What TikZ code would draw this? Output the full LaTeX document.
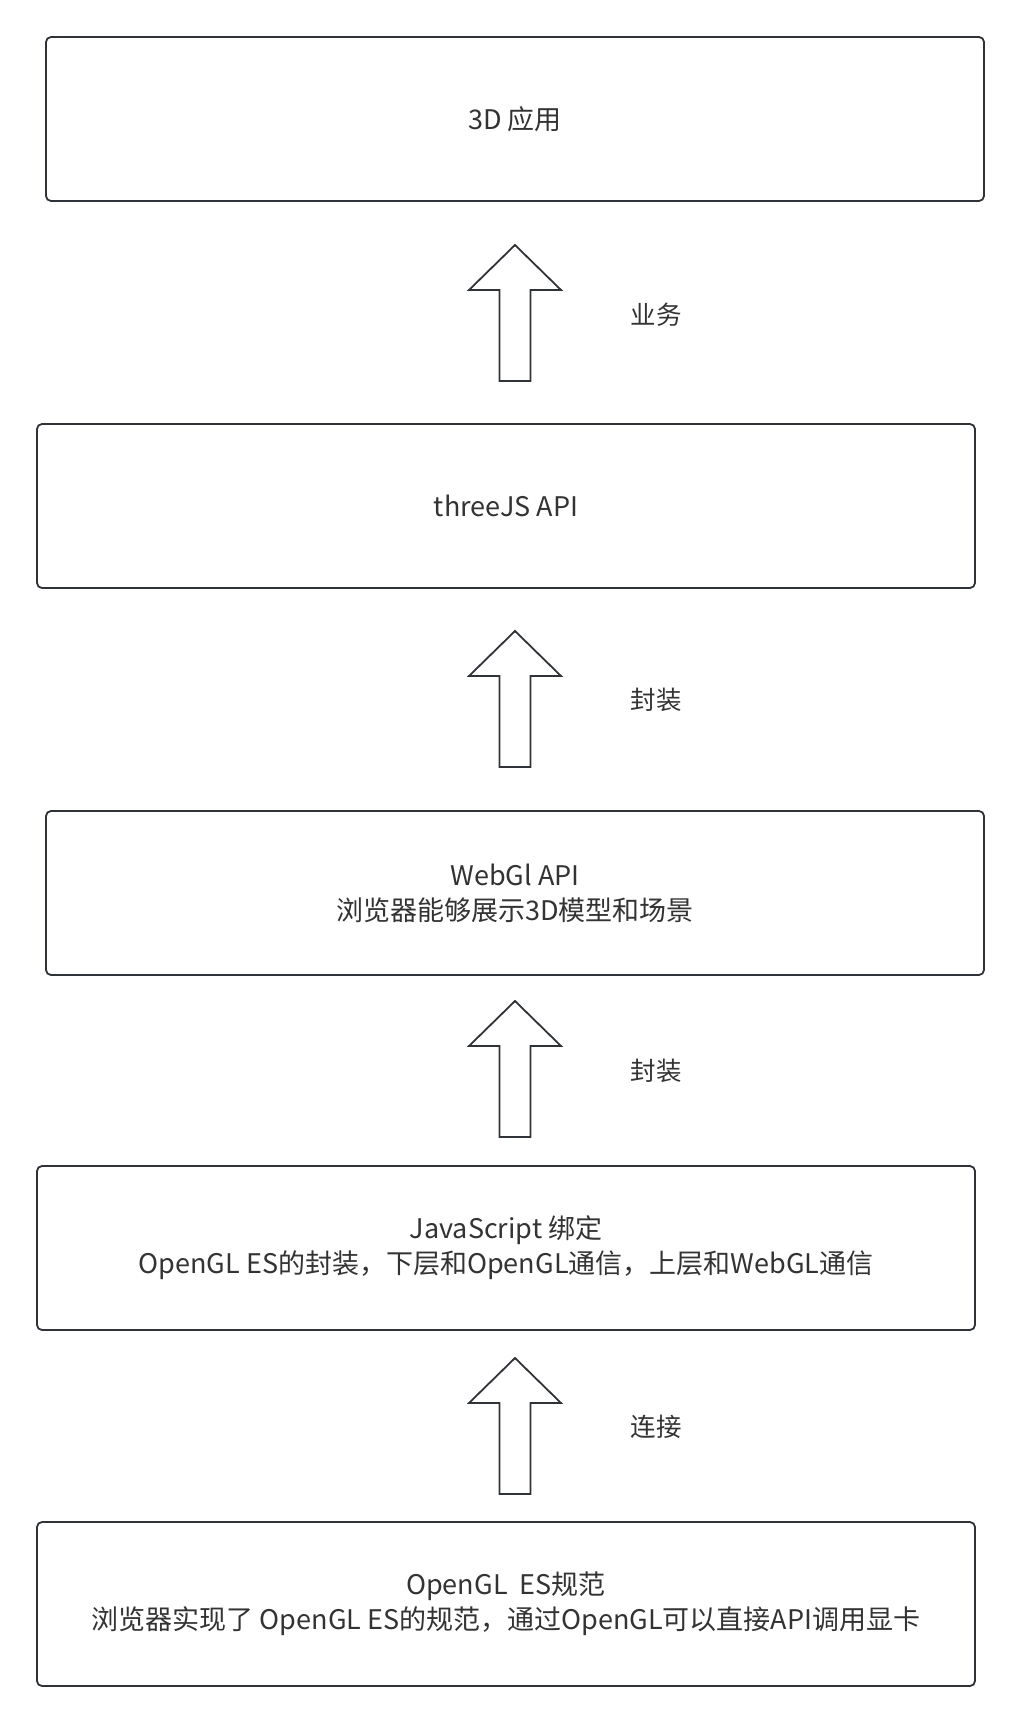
\documentclass[tikz,border=0pt]{standalone}
\usepackage{fontspec}
\setmainfont{Noto Sans CJK SC}
\usetikzlibrary{calc}
\definecolor{ln}{HTML}{2F3338}
\definecolor{tx}{HTML}{333333}
\tikzset{
  layer/.style={draw=ln, line width=1.8pt, rounded corners=5pt, fill=white,
    minimum width=938pt, minimum height=164pt, inner sep=0pt, align=center,
    text=tx, font=\fontsize{27}{35}\selectfont},
  lbl/.style={text=tx, font=\fontsize{25.5}{28}\selectfont, inner sep=0pt},
  uparrow/.pic={\draw[ln, line width=1.8pt, line join=miter, fill=white]
    (-15.5,0) -- (-15.5,-91) -- (-46,-91) -- (0,-136) -- (46,-91) -- (15.5,-91) -- (15.5,0) -- cycle;}
}
\begin{document}
\begin{tikzpicture}[x=1pt,y=-1pt]
\useasboundingbox (0,0) rectangle (1021,1724);
\node[layer] (b1) at (515,119) {3D 应用};
\node[layer] (b2) at (506,506) {threeJS API};
\node[layer] (b3) at (515,893) {WebGl API\\浏览器能够展示3D模型和场景};
\node[layer] (b4) at (506,1248) {JavaScript 绑定\\OpenGL ES的封装，下层和OpenGL通信，上层和WebGL通信};
\node[layer] (b5) at (506,1604) {OpenGL\ \ ES规范\\浏览器实现了 OpenGL ES的规范，通过OpenGL可以直接API调用显卡};
\coordinate (a1) at (515,381);
\coordinate (a2) at (515,767);
\coordinate (a3) at (515,1137);
\coordinate (a4) at (515,1494);
\pic at (a1) {uparrow};
\pic at (a2) {uparrow};
\pic at (a3) {uparrow};
\pic at (a4) {uparrow};
\node[lbl] (l1) at (656,315) {业务};
\node[lbl] (l2) at (656,700) {封装};
\node[lbl] (l3) at (656,1071) {封装};
\node[lbl] (l4) at (656,1427) {连接};
\end{tikzpicture}
\end{document}
